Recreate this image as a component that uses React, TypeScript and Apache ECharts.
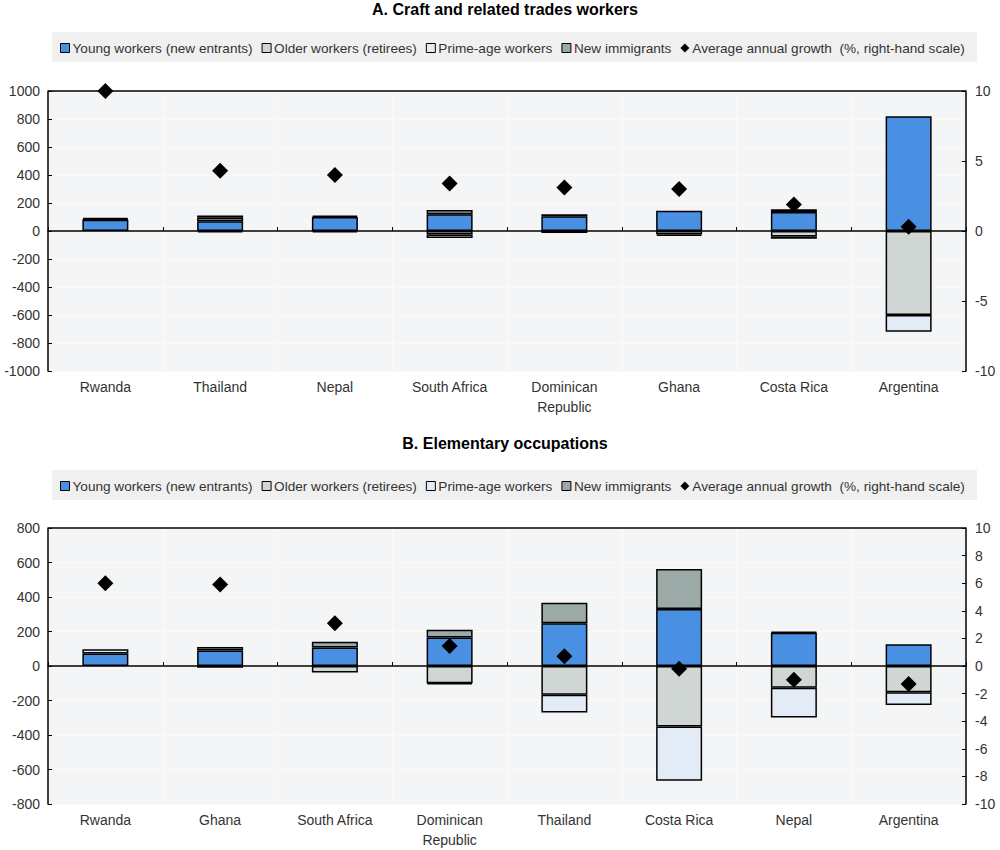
import React, { useEffect, useRef } from "react";
import * as echarts from "echarts";

const FONT = "'Liberation Sans Narrow', 'Arial Narrow', 'Liberation Sans', Arial, sans-serif";

const titleA = "A. Craft and related trades workers";
const titleB = "B. Elementary occupations";

const catsA = ["Rwanda", "Thailand", "Nepal", "South Africa", "Dominican\nRepublic", "Ghana", "Costa Rica", "Argentina"];
const youngA = [80, 70, 100, 120, 105, 145, 135, 820];
const olderA = [null, -10, -10, -25, -15, -25, -40, -600];
const primeA = [5, 25, 10, -25, 15, -10, -15, -120];
const immA = [10, 15, null, 30, null, null, 20, null];
const growthA = [10, 4.3, 4.0, 3.4, 3.1, 3.0, 1.9, 0.3];

const catsB = ["Rwanda", "Ghana", "South Africa", "Dominican\nRepublic", "Thailand", "Costa Rica", "Nepal", "Argentina"];
const youngB = [72, 90, 107, 165, 248, 331, 193, 126];
const olderB = [null, -10, -38, -100, -166, -350, -126, -152];
const primeB = [25, null, null, -7, -104, -315, -173, -74];
const immB = [null, 20, 34, 45, 118, 231, 5, null];
const growthB = [6.0, 5.9, 3.1, 1.45, 0.7, -0.2, -1.0, -1.3];

const leftTicksA = { min: -1000, max: 1000, interval: 200 };
const rightTicksA = { min: -10, max: 10, interval: 5 };
const leftTicksB = { min: -800, max: 800, interval: 200 };
const rightTicksB = { min: -10, max: 10, interval: 2 };

const names = {
  young: "Young workers (new entrants)",
  older: "Older workers (retirees)",
  prime: "Prime-age workers",
  imm: "New immigrants",
  growth: "Average annual growth  (%, right-hand scale)",
};

const colors = {
  young: "#4a90e2",
  older: "#cfd6d4",
  prime: "#e3ebf7",
  imm: "#9ba9a7",
};

const GRID_BG = "#f4f5f7";
const GRID_LINE = "#fdfbea";

export default function App() {
  const ref = useRef<HTMLDivElement>(null);
  useEffect(() => {
    if (!ref.current) return;
    const chart = echarts.init(ref.current, null, { renderer: "svg" });

    const grids = [
      { left: 48, right: 34, top: 91, height: 280, show: true, backgroundColor: GRID_BG, borderWidth: 0 },
      { left: 48, right: 34, top: 528, height: 280, show: true, backgroundColor: GRID_BG, borderWidth: 0 },
    ];

    const labelStyle = { fontFamily: FONT, fontSize: 14, color: "#333" };

    const mkXAxes = (cats: string[], gi: number) => [
      {
        type: "category",
        data: cats,
        gridIndex: gi,
        position: "bottom",
        axisLine: { show: false, onZero: false },
        axisTick: { show: false },
        axisLabel: { ...labelStyle, margin: 6, lineHeight: 20, interval: 0 },
        splitLine: { show: true, lineStyle: { color: GRID_LINE, width: 1 } },
      },
      {
        type: "category",
        data: cats,
        gridIndex: gi,
        position: "top",
        axisLine: { show: true, onZero: true, lineStyle: { color: "#000", width: 1.5 } },
        axisTick: { show: true, inside: false, length: 4, lineStyle: { color: "#000" } },
        axisLabel: { show: false },
        splitLine: { show: false },
      },
    ];

    const fmt = (v: number) => String(v);

    const mkYAxes = (l: any, r: any, gi: number) => [
      {
        type: "value",
        gridIndex: gi,
        position: "left",
        ...l,
        axisLine: { show: true, lineStyle: { color: "#000", width: 1.5 } },
        axisTick: { show: true, inside: true, length: 4, lineStyle: { color: "#000" } },
        axisLabel: { ...labelStyle, margin: 8, formatter: fmt },
        splitLine: { show: true, lineStyle: { color: GRID_LINE, width: 1 } },
      },
      {
        type: "value",
        gridIndex: gi,
        position: "right",
        ...r,
        axisLine: { show: true, lineStyle: { color: "#000", width: 1.5 } },
        axisTick: { show: true, inside: true, length: 4, lineStyle: { color: "#000" } },
        axisLabel: { ...labelStyle, margin: 9, formatter: fmt },
        splitLine: { show: false },
      },
    ];

    const barStyle = (c: string) => ({ color: c, borderColor: "#000", borderWidth: 1.5 });

    const mkSeries = (
      gi: number,
      young: any[],
      older: any[],
      prime: any[],
      imm: any[],
      growth: number[],
      topVal: number
    ) => {
      const xi = gi * 2;
      const yi = gi * 2;
      const stack = "s" + gi;
      const common = { type: "bar", xAxisIndex: xi, yAxisIndex: yi, stack, barWidth: 46 };
      return [
        {
          ...common,
          name: names.young,
          data: young,
          itemStyle: barStyle(colors.young),
          markLine: {
            silent: true,
            symbol: "none",
            label: { show: false },
            lineStyle: { color: "#000", width: 1.5, type: "solid" },
            data: [{ yAxis: topVal }],
          },
        },
        { ...common, name: names.older, data: older, itemStyle: barStyle(colors.older) },
        { ...common, name: names.prime, data: prime, itemStyle: barStyle(colors.prime) },
        { ...common, name: names.imm, data: imm, itemStyle: barStyle(colors.imm) },
        {
          type: "scatter",
          name: names.growth,
          xAxisIndex: xi,
          yAxisIndex: yi + 1,
          data: growth,
          symbol: "diamond",
          symbolSize: 16,
          itemStyle: { color: "#000", opacity: 1 },
          z: 10,
        },
      ];
    };

    const legendData = [
      { name: names.young, icon: "rect" },
      { name: names.older, icon: "rect" },
      { name: names.prime, icon: "rect" },
      { name: names.imm, icon: "rect" },
      { name: names.growth, icon: "diamond", itemStyle: { borderWidth: 0, color: "#000" } },
    ];

    const mkLegend = (top: number) => ({
      top,
      left: 60,
      width: 935,
      padding: 0,
      itemWidth: 9,
      itemHeight: 9,
      itemGap: 9,
      data: legendData,
      selectedMode: false,
      textStyle: { fontFamily: FONT, fontSize: 13.6, color: "#333", padding: [0, 0, 0, -2] },
      itemStyle: { borderColor: "#000", borderWidth: 1 },
    });

    chart.setOption({
      animation: false,
      backgroundColor: "#fff",
      title: [
        { text: titleA, left: 505, textAlign: "center", top: 1, padding: 0, textStyle: { fontFamily: FONT, fontSize: 16, fontWeight: "bold", color: "#000" } },
        { text: titleB, left: 505, textAlign: "center", top: 435, padding: 0, textStyle: { fontFamily: FONT, fontSize: 16, fontWeight: "bold", color: "#000" } },
      ],
      graphic: [
        { type: "rect", shape: { x: 52, y: 32, width: 925, height: 30 }, style: { fill: "#f0f0f0" }, z: -10 },
        { type: "rect", shape: { x: 52, y: 470, width: 925, height: 30 }, style: { fill: "#f0f0f0" }, z: -10 },
      ],
      legend: [mkLegend(41), mkLegend(479)],
      grid: grids,
      xAxis: [...mkXAxes(catsA, 0), ...mkXAxes(catsB, 1)],
      yAxis: [...mkYAxes(leftTicksA, rightTicksA, 0), ...mkYAxes(leftTicksB, rightTicksB, 1)],
      series: [
        ...mkSeries(0, youngA, olderA, primeA, immA, growthA, leftTicksA.max),
        ...mkSeries(1, youngB, olderB, primeB, immB, growthB, leftTicksB.max),
      ],
    });

    return () => chart.dispose();
  }, []);

  return (
    <div
      ref={ref}
      style={{ position: "absolute", left: 0, top: 0, width: 1000, height: 850 }}
    />
  );
}
